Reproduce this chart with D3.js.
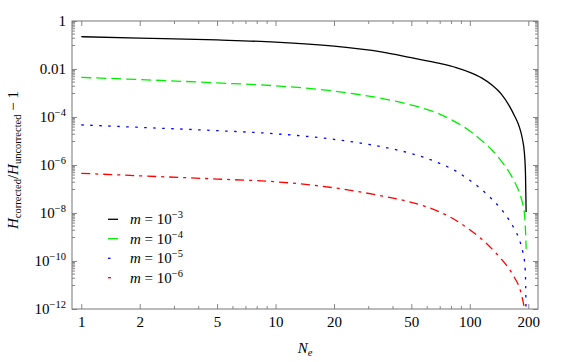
<!DOCTYPE html>
<html lang="en">
<head>
    <meta charset="UTF-8">
    <title>H corrected / H uncorrected - 1</title>
    <style>
        body { margin: 0; background: #fff; }
        svg { display: block; }
        text { font-family: "Liberation Serif", "Times New Roman", "DejaVu Serif", serif; }
        .frame { fill: none; stroke: #777; stroke-width: 1; }
        .tick line { stroke: #888; }
        .tick text { fill: #000; font-size: 15px; }
        .curve { fill: none; stroke-width: 1.3; }
    </style>
</head>
<body>
    <svg id="chart" width="584" height="362"></svg>
    <script src="https://d3js.org/d3.v7.min.js"></script>
    <script>
        // N_e sample points
        const Ne = [1, 2, 5, 10, 20, 35, 50, 70, 85, 100, 115, 130, 145, 160, 170, 180, 187, 191, 193.5, 195];

        // one series per m
        const m3 = [0.222, 0.195, 0.162, 0.132, 0.0891, 0.0513, 0.0295, 0.0171, 0.0115, 0.0073,
                    0.00427, 0.00214, 9.2e-4, 2.84e-4, 1.1e-4, 3.8e-5, 1.1e-5, 3.16e-6, 4.0e-7, 1.1e-8];
        const m4 = [4.47e-3, 3.63e-3, 2.63e-3, 2.0e-3, 1.2e-3, 6.0e-4, 3.16e-4, 1.32e-4, 6.0e-5, 2.63e-5,
                    1.05e-5, 4.2e-6, 1.5e-6, 4.8e-7, 2.0e-7, 7.1e-8, 2.5e-8, 1.0e-8, 1.8e-9, 3.2e-10];
        const m5 = [4.7e-5, 3.7e-5, 2.7e-5, 2.0e-5, 1.17e-5, 5.8e-6, 3.0e-6, 1.17e-6, 5.5e-7, 2.3e-7,
                    9.5e-8, 3.8e-8, 1.45e-8, 4.8e-9, 2.1e-9, 7.6e-10, 2.6e-10, 1.05e-10, 2.0e-11, 3.2e-13];
        const m6 = [4.5e-7, 3.55e-7, 2.6e-7, 2.0e-7, 1.12e-7, 5.2e-8, 2.8e-8, 1.1e-8, 4.9e-9, 2.0e-9,
                    8.3e-10, 3.2e-10, 1.23e-10, 4.5e-11, 2.0e-11, 7.9e-12, 2.5e-12, 8.9e-13, 2.0e-13, 1e-14];

        const seriesNames = ["3", "4", "5", "6"];
        const seriesValues = [m3, m4, m5, m6];
        const seriesColors = ["#000000", "#00ee00", "#0000ff", "#ff0000"];
        const seriesDash = [null, "10,5", "2.5,6.5", "9,5,3,5"];
        // legend samples: short stroke showing the first mark of each pattern
        const legendLen = [10, 10, 5, 5];
        const legendOffset = [0, 0, 0, 14];

        // tick values
        const xMajor = [1, 2, 5, 10, 20, 50, 100, 200];
        const xMinor = [3, 4, 6, 7, 8, 9, 30, 40, 60, 70, 80, 90];
        const yMajorExp = [0, -2, -4, -6, -8, -10, -12];

        const margin = { top: 21, right: 46, bottom: 53, left: 72 };
        const width = 584, height = 362;
        const x0 = margin.left, x1 = width - margin.right;
        const y0 = height - margin.bottom, y1 = margin.top;
        const serif = "Liberation Serif, Times New Roman, DejaVu Serif, serif";

        const svg = d3.select("#chart").attr("font-family", serif);

        const x = d3.scaleLog().domain([0.896, 224.4]).range([x0, x1]);
        const y = d3.scaleLog().domain([1e-12, 1]).range([y0, y1]);

        // minor y ticks: 1..9 x 10^(k-1) just under each labelled decade
        const yMinor = [];
        yMajorExp.forEach(k => {
            for (let j = 1; j <= 9; j++) {
                const v = j * Math.pow(10, k - 1);
                if (v >= 1e-12) yMinor.push(v);
            }
        });
        const yMajor = yMajorExp.map(k => Math.pow(10, k));

        // axes, ticks pointing inward on all four sides
        const axes = [
            [d3.axisBottom(x).tickValues(xMajor).tickSizeInner(-5).tickPadding(7).tickFormat(d3.format("d")), 0, y0],
            [d3.axisBottom(x).tickValues(xMinor).tickSizeInner(-3).tickFormat(""), 0, y0],
            [d3.axisTop(x).tickValues(xMajor).tickSizeInner(-5).tickFormat(""), 0, y1],
            [d3.axisTop(x).tickValues(xMinor).tickSizeInner(-3).tickFormat(""), 0, y1],
            [d3.axisLeft(y).tickValues(yMajor).tickSizeInner(-5).tickFormat(""), x0, 0],
            [d3.axisLeft(y).tickValues(yMinor).tickSizeInner(-3).tickFormat(""), x0, 0],
            [d3.axisRight(y).tickValues(yMajor).tickSizeInner(-5).tickFormat(""), x1, 0],
            [d3.axisRight(y).tickValues(yMinor).tickSizeInner(-3).tickFormat(""), x1, 0]
        ];
        axes.forEach(([ax, tx, ty]) => {
            svg.append("g").attr("transform", `translate(${tx},${ty})`)
                .call(ax.tickSizeOuter(0))
                .attr("font-family", serif);
        });
        svg.selectAll(".domain").remove();

        // y tick labels with superscripts
        const yLab = svg.append("g").attr("font-size", 15).attr("text-anchor", "end");
        yMajorExp.forEach(k => {
            const t = yLab.append("text").attr("x", x0 - 6).attr("y", y(Math.pow(10, k)) + 5);
            if (k === 0) t.text("1");
            else if (k === -2) t.text("0.01");
            else {
                t.append("tspan").text("10");
                t.append("tspan").attr("font-size", 10.5).attr("dy", -6).text("\u2212" + (-k));
            }
        });

        // frame
        svg.append("rect").attr("class", "frame")
            .attr("x", x0).attr("y", y1).attr("width", x1 - x0).attr("height", y0 - y1);

        svg.append("clipPath").attr("id", "clip")
            .append("rect").attr("x", x0).attr("y", y1).attr("width", x1 - x0).attr("height", y0 - y1);

        const line = d3.line()
            .x(d => x(d[0]))
            .y(d => y(d[1]))
            .curve(d3.curveMonotoneX);

        const plot = svg.append("g").attr("clip-path", "url(#clip)");
        seriesValues.forEach((vals, i) => {
            plot.append("path")
                .attr("class", "curve")
                .attr("d", line(Ne.map((n, j) => [n, vals[j]])))
                .attr("stroke", seriesColors[i])
                .attr("stroke-dasharray", seriesDash[i]);
        });

        // legend
        const legendY = [219.3, 238.7, 258.3, 277.7];
        const legend = svg.append("g");
        seriesNames.forEach((s, i) => {
            legend.append("line")
                .attr("x1", 108).attr("x2", 108 + legendLen[i])
                .attr("y1", legendY[i]).attr("y2", legendY[i])
                .attr("stroke", seriesColors[i]).attr("stroke-width", 1.3)
                .attr("stroke-dasharray", seriesDash[i])
                .attr("stroke-dashoffset", legendOffset[i]);
            const t = legend.append("text").attr("x", 130).attr("y", legendY[i] + 5).attr("font-size", 15);
            t.append("tspan").attr("font-style", "italic").text("m");
            t.append("tspan").text(" = 10");
            t.append("tspan").attr("font-size", 10.5).attr("dy", -6).text("\u2212" + s);
        });

        // axis titles
        const xt = svg.append("text").attr("x", (x0 + x1) / 2).attr("y", 353)
            .attr("text-anchor", "middle").attr("font-size", 15);
        xt.append("tspan").attr("font-style", "italic").text("N");
        xt.append("tspan").attr("font-style", "italic").attr("font-size", 10.5).attr("dy", 3).text("e");

        const yt = svg.append("text")
            .attr("transform", "translate(17.5,160) rotate(-90)")
            .attr("text-anchor", "middle").attr("font-size", 15);
        yt.append("tspan").attr("font-style", "italic").text("H");
        yt.append("tspan").attr("font-size", 10.5).attr("dy", 3).text("corrected");
        yt.append("tspan").attr("dy", -3).text("/");
        yt.append("tspan").attr("font-style", "italic").text("H");
        yt.append("tspan").attr("font-size", 10.5).attr("dy", 3).text("uncorrected");
        yt.append("tspan").attr("dy", -3).text(" \u2212 1");
    </script>
</body>
</html>
